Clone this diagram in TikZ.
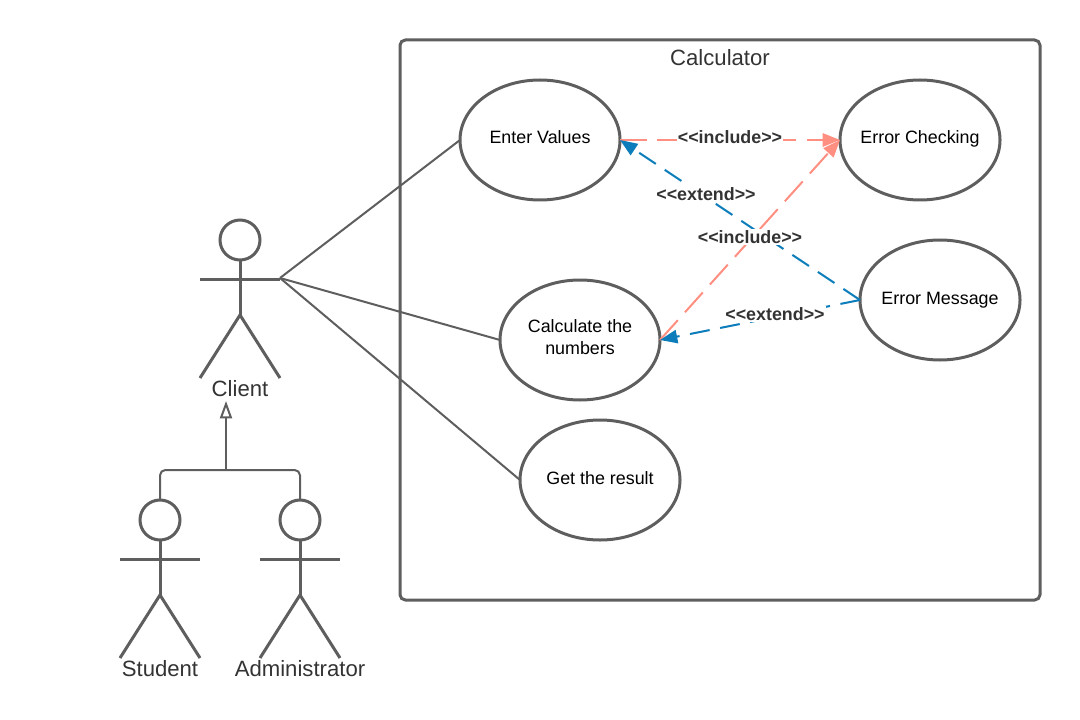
\documentclass[tikz,border=0pt]{standalone}
\usepackage{fontspec}
\setmainfont{Liberation Sans}
\usetikzlibrary{arrows.meta}
\usetikzlibrary{shapes.geometric}

\definecolor{linegray}{HTML}{5E5E5E}
\definecolor{textgray}{HTML}{333333}
\definecolor{incpink}{HTML}{FF8F80}
\definecolor{extblue}{HTML}{0C7CBA}

\tikzset{
  usecase/.style={draw=linegray, line width=2.25pt, ellipse, minimum width=120pt, minimum height=90pt, inner xsep=-6pt, inner ysep=0pt, outer sep=0pt, align=center, text height=10pt, text depth=4pt, font=\fontsize{13.4}{16.5}\selectfont},
  head/.style={draw=linegray, line width=2.25pt, circle, minimum size=30pt, inner sep=0pt, outer sep=0pt},
  body/.style={draw=linegray, line width=2.25pt},
  actorname/.style={text=textgray, font=\fontsize{16.6}{19}\selectfont},
  assoc/.style={draw=linegray, line width=1.5pt},
  incl/.style={draw=incpink, line width=1.5pt, dash pattern=on 20pt off 8pt, -{Triangle[length=13pt,width=10pt]}},
  extd/.style={draw=extblue, line width=1.5pt, dash pattern=on 15pt off 8pt, -{Triangle[length=13pt,width=10pt]}},
  stereo/.style={fill=white, text=textgray, inner sep=1pt, font=\fontsize{13.4}{15}\selectfont\bfseries}
}

\begin{document}
\begin{tikzpicture}[x=0.75pt, y=-0.75pt]
\useasboundingbox (0,0) rectangle (1080,720);

% system boundary
\node[draw=linegray, line width=2.25pt, rounded corners=4pt, minimum width=480pt, minimum height=420pt, inner sep=0pt, outer sep=0pt] (calculator) at (720,320) {};
\node[actorname] (calcname) at (720,58) {Calculator};

% use cases
\node[usecase] (enter) at (540,140) {Enter Values};
\node[usecase, text height=26pt, text depth=4.5pt] (calc) at (580,340) {Calculate the\\numbers};
\node[usecase] (result) at (600,480) {Get the result};
\node[usecase] (check) at (920,140) {Error Checking};
\node[usecase] (message) at (940,300) {Error Message};

% actors
\foreach \name/\x/\y in {client/240/240, student/160/520, admin/300/520} {
	\node[head] (\name) at (\x,\y) {};
	\draw[body] (\name.south) -- (\x,{\y+75});
	\draw[body] ({\x-40},{\y+39}) -- ({\x+40},{\y+39});
	\draw[body] ({\x-40},{\y+138}) -- (\x,{\y+75}) -- ({\x+40},{\y+138});
}
\node[actorname] (clientname) at (240,389) {Client};
\node[actorname] (studentname) at (160,669) {Student};
\node[actorname] (adminname) at (300,669) {Administrator};

% associations
\coordinate (hand) at (280,278);
\draw[assoc] (hand) -- (enter.west);
\draw[assoc] (hand) -- (calc.west);
\draw[assoc] (hand) -- (result.west);

% generalization
\coordinate (join) at (226,470);
\coordinate (tip) at (226,401);
\draw[assoc, rounded corners=4pt] (student.north) |- (join);
\draw[assoc, rounded corners=4pt] (admin.north) |- (join);
\draw[assoc, -{Triangle[open, length=13pt, width=9pt]}] (join) -- (tip);

% dependencies
\draw[incl] (enter.east) -- (check.west);
\draw[incl] (calc.east) -- (check.west);
\draw[extd] (message.west) -- (enter.east);
\draw[extd] (message.west) -- (calc.east);

\node[stereo] (inc1) at (730,137) {<{}<include>{}>};
\node[stereo] (ext1) at (706,194) {<{}<extend>{}>};
\node[stereo] (inc2) at (750,237) {<{}<include>{}>};
\node[stereo] (ext2) at (775,314) {<{}<extend>{}>};
\end{tikzpicture}
\end{document}
